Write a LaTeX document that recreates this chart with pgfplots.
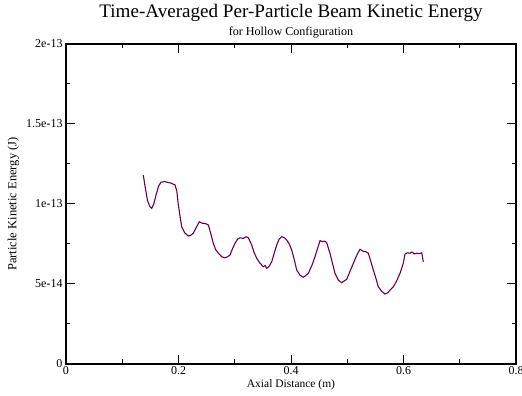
\documentclass[border=0pt]{standalone}
\usepackage{pgfplots}
\pgfplotsset{compat=1.18}
\usepackage{fontspec}
\setmainfont{Liberation Serif}
\definecolor{curve}{RGB}{105,0,70}
\begin{document}
\begin{tikzpicture}
\path[use as bounding box] (-66pt,-32pt) rectangle (456pt,364pt);
\begin{axis}[
  at={(0pt,0pt)}, anchor=south west,
  scale only axis, width=450pt, height=320pt,
  clip mode=individual,
  xmin=0, xmax=0.8, ymin=0, ymax=2e-13,
  scaled y ticks=false, scaled x ticks=false,
  xtick={0,0.2,0.4,0.6,0.8},
  xticklabels={0,0.2,0.4,0.6,0.8},
  ytick={0,5e-14,1e-13,1.5e-13,2e-13},
  yticklabels={0,5e-14,1e-13,1.5e-13,2e-13},
  minor x tick num=1, minor y tick num=1,
  tick align=inside, major tick length=9pt, minor tick length=4.5pt,
  axis line style={line width=1.3pt},
  every tick/.style={black, line width=1pt},
  ticklabel style={font=\fontsize{12pt}{14pt}\selectfont, inner sep=0pt},
  xticklabel style={anchor=north, yshift=-2.6pt},
  yticklabel style={anchor=east, xshift=-3.3pt},
  xlabel={Axial Distance (m)},
  ylabel={Particle Kinetic Energy (J)},
  every axis x label/.style={font=\fontsize{11.5pt}{13pt}\selectfont, at={([yshift=-21pt]axis description cs:0.5,0)}, anchor=center},
  every axis y label/.style={font=\fontsize{12.5pt}{14pt}\selectfont, at={([xshift=-52.5pt]axis description cs:0,0.5)}, anchor=center, rotate=90},
  title={Time-Averaged Per-Particle Beam Kinetic Energy},
  every axis title/.style={font=\fontsize{19.1pt}{21pt}\selectfont, at={([yshift=31.5pt]axis description cs:0.5,1)}, anchor=center},
]
\node[font=\fontsize{12.1pt}{14pt}\selectfont, anchor=center] at ([yshift=11.8pt]axis description cs:0.5,1) {for Hollow Configuration};
\addplot[color=curve, line width=1.1pt] coordinates {
(0.1374,1.181e-13) (0.1410,1.100e-13) (0.1450,1.020e-13) (0.1490,0.985e-13) (0.1524,0.973e-13)
(0.1560,1.000e-13) (0.1600,1.056e-13) (0.1650,1.115e-13) (0.1689,1.136e-13) (0.1750,1.140e-13)
(0.1810,1.135e-13) (0.1870,1.130e-13) (0.1938,1.119e-13) (0.1970,1.080e-13) (0.1995,1.000e-13)
(0.2025,0.930e-13) (0.2057,0.858e-13) (0.2110,0.820e-13) (0.2174,0.800e-13) (0.2220,0.805e-13)
(0.2263,0.817e-13) (0.2310,0.850e-13) (0.2370,0.889e-13) (0.2420,0.880e-13) (0.2471,0.879e-13)
(0.2530,0.869e-13) (0.2570,0.820e-13) (0.2619,0.754e-13) (0.2660,0.715e-13) (0.2708,0.692e-13)
(0.2770,0.670e-13) (0.2827,0.664e-13) (0.2870,0.670e-13) (0.2916,0.681e-13) (0.2960,0.720e-13)
(0.3004,0.754e-13) (0.3050,0.780e-13) (0.3093,0.789e-13) (0.3150,0.785e-13) (0.3200,0.795e-13)
(0.3241,0.789e-13) (0.3301,0.744e-13) (0.3340,0.700e-13) (0.3390,0.661e-13) (0.3450,0.630e-13)
(0.3508,0.608e-13) (0.3540,0.615e-13) (0.3568,0.598e-13) (0.3610,0.610e-13) (0.3657,0.639e-13)
(0.3700,0.690e-13) (0.3746,0.744e-13) (0.3790,0.780e-13) (0.3835,0.796e-13) (0.3880,0.790e-13)
(0.3924,0.775e-13) (0.3970,0.750e-13) (0.4012,0.7125e-13) (0.4060,0.650e-13) (0.4101,0.5875e-13)
(0.4160,0.555e-13) (0.4219,0.542e-13) (0.4260,0.552e-13) (0.4308,0.567e-13) (0.4370,0.615e-13)
(0.4427,0.671e-13) (0.4470,0.720e-13) (0.4516,0.771e-13) (0.4560,0.765e-13) (0.4600,0.768e-13)
(0.4635,0.758e-13) (0.4693,0.692e-13) (0.4740,0.625e-13) (0.4782,0.567e-13) (0.4840,0.525e-13)
(0.4901,0.508e-13) (0.4950,0.520e-13) (0.4990,0.529e-13) (0.5050,0.580e-13) (0.5108,0.629e-13)
(0.5170,0.680e-13) (0.5227,0.717e-13) (0.5280,0.705e-13) (0.5330,0.702e-13) (0.5374,0.692e-13)
(0.5420,0.640e-13) (0.5463,0.5875e-13) (0.5510,0.535e-13) (0.5552,0.483e-13) (0.5610,0.455e-13)
(0.5671,0.4375e-13) (0.5720,0.445e-13) (0.5770,0.465e-13) (0.5819,0.483e-13) (0.5880,0.520e-13)
(0.5938,0.567e-13) (0.5970,0.600e-13) (0.5996,0.629e-13) (0.6027,0.6875e-13) (0.6070,0.695e-13)
(0.6116,0.692e-13) (0.6150,0.700e-13) (0.6190,0.688e-13) (0.6235,0.692e-13) (0.6280,0.690e-13)
(0.6324,0.695e-13) (0.6352,0.639e-13)
};
\end{axis}
\end{tikzpicture}
\end{document}
